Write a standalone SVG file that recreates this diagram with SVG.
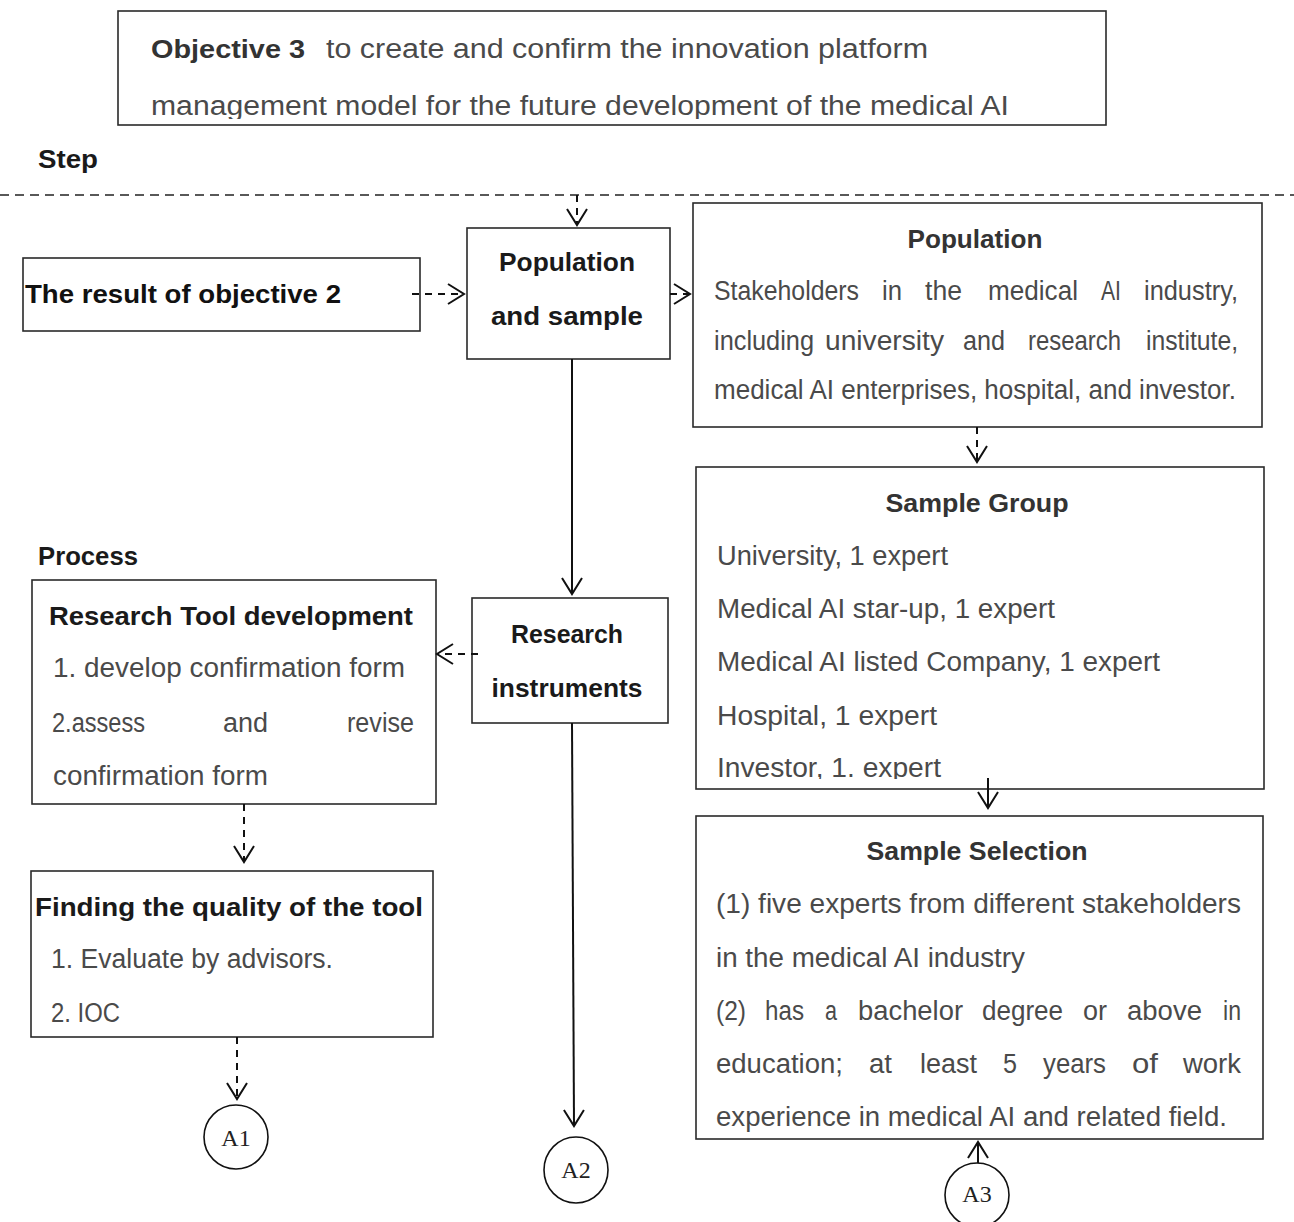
<svg xmlns="http://www.w3.org/2000/svg" width="1294" height="1222" viewBox="0 0 1294 1222">
<defs>
<style>
.box{fill:#fff;stroke:#2a2a2a;stroke-width:1.6}
.b{font-family:"Liberation Sans",Arial,sans-serif;font-weight:bold;fill:#1a1a1a;font-size:26px}
.h{font-family:"Liberation Sans",Arial,sans-serif;font-weight:bold;fill:#333;font-size:26px}
.t{font-family:"Liberation Sans",Arial,sans-serif;fill:#4a4a4a;font-size:27px}
.c{font-family:"Liberation Serif","Times New Roman",serif;fill:#222;font-size:24px;text-anchor:middle}
.m{text-anchor:middle}
.ln{fill:none;stroke:#111;stroke-width:2}
.dash{stroke-dasharray:7 6}
.circ{fill:#fff;stroke:#111;stroke-width:1.6}
</style>
<marker id="arr" markerUnits="userSpaceOnUse" markerWidth="22" markerHeight="24" refX="17" refY="11" orient="auto">
<path d="M1,1 L17,11 L1,21" fill="none" stroke="#111" stroke-width="2"/>
</marker>
<clipPath id="clipObj"><rect x="118" y="11" width="988" height="108"/></clipPath>
<clipPath id="clipGrp"><rect x="696" y="467" width="568" height="312"/></clipPath>
</defs>
<rect width="1294" height="1222" fill="#fff"/>

<g id="objective">
<rect class="box" x="118" y="11" width="988" height="114"/>
<g clip-path="url(#clipObj)">
<text class="h" x="151" y="58" textLength="154" lengthAdjust="spacingAndGlyphs">Objective 3</text>
<text class="t" x="326" y="58" textLength="602" lengthAdjust="spacingAndGlyphs">to create and  confirm the innovation platform</text>
<text class="t" x="151" y="115" textLength="858" lengthAdjust="spacingAndGlyphs">management model for the future development of the medical AI</text>
</g>
</g>

<g id="step-label"><text class="b" x="38" y="168" textLength="60" lengthAdjust="spacingAndGlyphs">Step</text></g>
<g id="divider"><line x1="0" y1="195" x2="1294" y2="195" stroke="#222" stroke-width="1.6" stroke-dasharray="9 6"/></g>

<g id="result-obj2">
<rect class="box" x="23" y="258" width="397" height="73"/>
<text class="b" x="25" y="303" textLength="316" lengthAdjust="spacingAndGlyphs" style="fill:#111">The result of objective 2</text>
</g>

<g id="pop-sample">
<rect class="box" x="467" y="228" width="203" height="131"/>
<text class="b m" x="567" y="271" textLength="136" lengthAdjust="spacingAndGlyphs">Population</text>
<text class="b m" x="567" y="325" textLength="152" lengthAdjust="spacingAndGlyphs">and sample</text>
</g>

<g id="population">
<rect class="box" x="693" y="203" width="569" height="224"/>
<text class="h m" x="975" y="248" textLength="135" lengthAdjust="spacingAndGlyphs">Population</text>
<text class="t" x="714" y="300" textLength="145" lengthAdjust="spacingAndGlyphs">Stakeholders</text>
<text class="t" x="882" y="300" textLength="20" lengthAdjust="spacingAndGlyphs">in</text>
<text class="t" x="925" y="300" textLength="37" lengthAdjust="spacingAndGlyphs">the</text>
<text class="t" x="988" y="300" textLength="90" lengthAdjust="spacingAndGlyphs">medical</text>
<text class="t" x="1101" y="300" textLength="20" lengthAdjust="spacingAndGlyphs">AI</text>
<text class="t" x="1144" y="300" textLength="94" lengthAdjust="spacingAndGlyphs">industry,</text>
<text class="t" x="714" y="350" textLength="100" lengthAdjust="spacingAndGlyphs">including</text>
<text class="t" x="825" y="350" textLength="119" lengthAdjust="spacingAndGlyphs">university</text>
<text class="t" x="963" y="350" textLength="42" lengthAdjust="spacingAndGlyphs">and</text>
<text class="t" x="1028" y="350" textLength="93" lengthAdjust="spacingAndGlyphs">research</text>
<text class="t" x="1146" y="350" textLength="92" lengthAdjust="spacingAndGlyphs">institute,</text>
<text class="t" x="714" y="399" textLength="522" lengthAdjust="spacingAndGlyphs">medical AI enterprises,  hospital, and investor.</text>
</g>

<g id="sample-group">
<rect class="box" x="696" y="467" width="568" height="322"/>
<text class="h m" x="977" y="512" textLength="183" lengthAdjust="spacingAndGlyphs">Sample Group</text>
<g clip-path="url(#clipGrp)">
<text class="t" x="717" y="565" textLength="231" lengthAdjust="spacingAndGlyphs">University, 1 expert</text>
<text class="t" x="717" y="618" textLength="338" lengthAdjust="spacingAndGlyphs">Medical AI star-up,  1 expert</text>
<text class="t" x="717" y="671" textLength="443" lengthAdjust="spacingAndGlyphs">Medical AI listed Company,  1 expert</text>
<text class="t" x="717" y="725" textLength="220" lengthAdjust="spacingAndGlyphs">Hospital,  1 expert</text>
<text class="t" x="717" y="777" textLength="224" lengthAdjust="spacingAndGlyphs">Investor,  1. expert</text>
</g>
</g>

<g id="sample-selection">
<rect class="box" x="696" y="816" width="567" height="323"/>
<text class="h m" x="977" y="860" textLength="221" lengthAdjust="spacingAndGlyphs">Sample Selection</text>
<text class="t" x="716" y="913" textLength="525" lengthAdjust="spacingAndGlyphs">(1)  five experts from different stakeholders</text>
<text class="t" x="716" y="967" textLength="309" lengthAdjust="spacingAndGlyphs">in the medical AI industry</text>
<text class="t" x="716" y="1020" textLength="30" lengthAdjust="spacingAndGlyphs">(2)</text>
<text class="t" x="765" y="1020" textLength="39" lengthAdjust="spacingAndGlyphs">has</text>
<text class="t" x="825" y="1020" textLength="12" lengthAdjust="spacingAndGlyphs">a</text>
<text class="t" x="858" y="1020" textLength="105" lengthAdjust="spacingAndGlyphs">bachelor</text>
<text class="t" x="982" y="1020" textLength="81" lengthAdjust="spacingAndGlyphs">degree</text>
<text class="t" x="1083" y="1020" textLength="24" lengthAdjust="spacingAndGlyphs">or</text>
<text class="t" x="1127" y="1020" textLength="75" lengthAdjust="spacingAndGlyphs">above</text>
<text class="t" x="1223" y="1020" textLength="18" lengthAdjust="spacingAndGlyphs">in</text>
<text class="t" x="716" y="1073" textLength="127" lengthAdjust="spacingAndGlyphs">education;</text>
<text class="t" x="869" y="1073" textLength="23" lengthAdjust="spacingAndGlyphs">at</text>
<text class="t" x="920" y="1073" textLength="57" lengthAdjust="spacingAndGlyphs">least</text>
<text class="t" x="1003" y="1073" textLength="14" lengthAdjust="spacingAndGlyphs">5</text>
<text class="t" x="1043" y="1073" textLength="63" lengthAdjust="spacingAndGlyphs">years</text>
<text class="t" x="1132" y="1073" textLength="26" lengthAdjust="spacingAndGlyphs">of</text>
<text class="t" x="1183" y="1073" textLength="58" lengthAdjust="spacingAndGlyphs">work</text>
<text class="t" x="716" y="1126" textLength="511" lengthAdjust="spacingAndGlyphs">experience in medical AI and related field.</text>
</g>

<g id="process-label"><text class="b" x="38" y="565" textLength="100" lengthAdjust="spacingAndGlyphs">Process</text></g>

<g id="research-tool">
<rect class="box" x="32" y="580" width="404" height="224"/>
<text class="b" x="49" y="625" textLength="364" lengthAdjust="spacingAndGlyphs">Research Tool development</text>
<text class="t" x="53" y="677" textLength="352" lengthAdjust="spacingAndGlyphs">1. develop confirmation form</text>
<text class="t" x="52" y="732" textLength="93" lengthAdjust="spacingAndGlyphs">2.assess</text>
<text class="t" x="223" y="732" textLength="45" lengthAdjust="spacingAndGlyphs">and</text>
<text class="t" x="347" y="732" textLength="67" lengthAdjust="spacingAndGlyphs">revise</text>
<text class="t" x="53" y="785" textLength="215" lengthAdjust="spacingAndGlyphs">confirmation form</text>
</g>

<g id="research-instruments">
<rect class="box" x="472" y="598" width="196" height="125"/>
<text class="b m" x="567" y="643" textLength="112" lengthAdjust="spacingAndGlyphs">Research</text>
<text class="b m" x="567" y="697" textLength="151" lengthAdjust="spacingAndGlyphs">instruments</text>
</g>

<g id="finding-quality">
<rect class="box" x="31" y="871" width="402" height="166"/>
<text class="b" x="35" y="916" textLength="388" lengthAdjust="spacingAndGlyphs">Finding the quality of the tool</text>
<text class="t" x="51" y="968" textLength="282" lengthAdjust="spacingAndGlyphs">1. Evaluate by advisors.</text>
<text class="t" x="51" y="1022" textLength="69" lengthAdjust="spacingAndGlyphs">2. IOC</text>
</g>

<g id="A1"><ellipse class="circ" cx="236" cy="1137" rx="32" ry="32"/><text class="c" x="236" y="1146">A1</text></g>
<g id="A2"><ellipse class="circ" cx="576" cy="1170" rx="32" ry="33"/><text class="c" x="576" y="1178">A2</text></g>
<g id="A3"><ellipse class="circ" cx="977" cy="1195" rx="32" ry="32"/><text class="c" x="977" y="1202">A3</text></g>

<g id="connectors">
<path class="ln dash" d="M577,195 L577,225" marker-end="url(#arr)"/>
<path class="ln dash" d="M412,294 L464,294" marker-end="url(#arr)"/>
<path class="ln dash" d="M670,294 L690,294" marker-end="url(#arr)"/>
<path class="ln" d="M572,359 L572,594" marker-end="url(#arr)"/>
<path class="ln dash" d="M478,654 L437,654" marker-end="url(#arr)"/>
<path class="ln dash" d="M977,427 L977,462" marker-end="url(#arr)"/>
<path class="ln" d="M988,778 L988,808" marker-end="url(#arr)"/>
<path class="ln dash" d="M244,804 L244,862" marker-end="url(#arr)"/>
<path class="ln dash" d="M237,1037 L237,1099" marker-end="url(#arr)"/>
<path class="ln" d="M572,723 L574,1126" marker-end="url(#arr)"/>
<path class="ln" d="M978,1163 L978,1142" marker-end="url(#arr)"/>
</g>
</svg>
